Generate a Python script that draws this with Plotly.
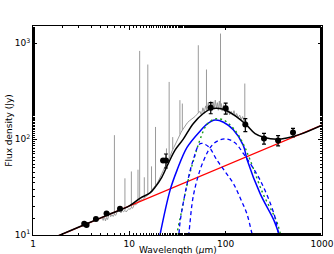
import plotly.graph_objects as go

# ---------------- data ----------------
# photometry
phot_wl = [3.4, 3.6, 4.5, 5.8, 8.0, 22.4, 24.0, 70, 100, 160, 250, 350, 500]
phot_flux = [13.1, 12.7, 14.7, 16.8, 18.8, 60, 60, 212, 210, 142, 101.6, 97, 117.5]
phot_err = [0, 0, 0, 0, 0, 0, 10, 28, 28, 22, 13, 12, 12]

# spectrum continuum
spec_wl = [5.2, 5.35, 5.5, 5.65, 5.8, 5.95, 6.1, 6.25, 6.4, 6.6, 6.8, 7.0, 7.2, 7.45,
           7.7, 7.95, 8.2, 8.45, 8.7, 9.0, 9.3, 9.6, 9.9, 10.2, 10.5, 10.8, 11.1, 11.3,
           11.6, 11.9, 12.2, 12.6, 13.0, 13.4, 13.8, 14.2, 14.7, 15.2, 15.7, 16.2, 16.7,
           17.2, 17.7, 18.2, 18.8, 19.4, 20.0, 20.6, 21.2, 21.8, 22.4, 23.0, 23.7, 24.4,
           25.1, 25.8, 26.6, 27.4, 28.2, 29.0, 29.9, 30.8, 31.7, 32.6, 33.5, 34.5, 35.5,
           36.5, 37.5, 38.5, 40, 42, 44, 46, 48, 50, 52, 54, 56, 58, 60, 62, 64, 66, 68,
           70, 72, 74, 76, 78, 80, 82, 84, 86, 88, 90, 92, 95, 98, 101, 104, 107, 110,
           114, 118, 122, 126, 130, 135, 140, 145, 150, 155, 160, 165]
spec_flux = [15.5, 14.2, 15.8, 14.0, 15.2, 14.5, 16.0, 17.2, 15.5, 16.3, 15.6, 16.5, 16.0, 17.2,
             18.5, 17.6, 17.0, 18.2, 17.5, 18.0, 17.4, 18.3, 18.8, 18.5, 19.4, 19.0, 20.0, 21.8,
             20.5, 21.2, 21.8, 22.5, 22.8, 23.4, 23.0, 24.2, 24.8, 25.6, 26.5, 27.0, 28.5,
             29.5, 30.2, 31.5, 33.0, 34.5, 36.5, 39.0, 41.5, 44.0, 47.0, 50.0, 53.0, 56.0,
             58, 63, 68, 73, 78, 82, 88, 94, 100, 106, 112, 118, 124,
             130, 136, 142, 148, 155, 160, 168, 172, 180, 188, 195, 178, 212, 190, 222, 198, 240, 205,
             250, 200, 245, 205, 255, 210, 240, 200, 250, 205, 235, 196, 228, 192, 215, 185, 205, 180,
             195, 178, 198, 172, 185, 168, 178, 160, 172, 155, 160, 150]

# emission lines
line_wl = [7.0, 9.0, 10.5, 12.3, 12.8, 14.3, 15.55, 17.0, 18.7, 24.3, 25.9, 28.2,
           33.5, 35.5, 52, 63.2, 88.4, 158]
line_base = [16.3, 18.0, 19.4, 22.0, 22.6, 24.3, 26.0, 29.0, 32.8, 56.0, 63.0, 78.0,
             112, 124, 188, 208, 222, 150]
line_peak = [110, 39, 46, 48, 832, 40, 600, 52, 134, 80, 395, 105,
             255, 235, 953, 532, 1262, 380]

# power law (red)
pl_wl = [1, 1000]
pl_flux = [7.6, 140]

# total model (black)
tot_wl = [1, 3, 6, 10, 13, 16.4, 18.5, 21.7, 25.4, 29.8, 36.3, 46, 58.6,
          71.5, 94.5, 130, 165, 202, 252, 339, 431, 590, 1000]
tot_flux = [7.6, 12.1, 16.2, 20.1, 24.3, 27.5, 31.5, 40, 55.8, 76.8, 100, 145, 185,
            208, 205, 171, 140, 114, 104, 100, 103, 112, 140]

# single-component fit (blue solid)
bb_wl = [19.5, 20.8, 26.5, 31.3, 39.7, 54.2, 65, 77.5, 95, 120, 152, 168, 228, 317, 360, 380]
bb_flux = [7, 10, 29.4, 47.5, 82, 121, 145, 158, 150, 125, 86.6, 60, 27, 14.2, 10, 8.5]

# warm component (blue dashed)
warm_wl = [31, 32.6, 33.8, 39.7, 45.9, 54.5, 66, 81.5, 100, 121, 145, 166, 188, 200]
warm_flux = [7.5, 10, 14.2, 34, 60, 89.6, 84, 60, 45, 34, 23, 16.7, 10.3, 8.5]

# cold component (blue dashed)
cold_wl = [39, 41.4, 46.6, 59.1, 75, 99.1, 124, 154, 229, 317, 355, 375]
cold_flux = [7, 10.3, 26.9, 60, 89.6, 100.7, 92, 70, 37, 16.7, 10.3, 8.5]

# green dotted component
grn_wl = [29.5, 31, 35, 39.3, 44, 49.9, 54.4, 63.2, 77, 95, 120, 150, 180, 244, 335, 370, 390]
grn_flux = [7, 10, 18, 31.8, 50, 76.8, 100, 140, 162, 158, 130, 92, 60, 27, 14.2, 10.3, 8.5]

# axis ticks
x_ticks = [1, 10, 100, 1000]
x_ticktext = ["1", "10", "100", "1000"]
y_ticks = [10, 100, 1000]
y_ticktext = ["10<sup>1</sup>", "10<sup>2</sup>", "10<sup>3</sup>"]

# ---------------- figure ----------------
fig = go.Figure()

fig.add_trace(go.Scatter(x=spec_wl, y=spec_flux, mode="lines",
                         line=dict(color="#9a9a9a", width=1), hoverinfo="skip"))
lx, ly = [], []
for w, b, p in zip(line_wl, line_base, line_peak):
    lx += [w, w, None]
    ly += [b, p, None]
fig.add_trace(go.Scatter(x=lx, y=ly, mode="lines",
                         line=dict(color="#9a9a9a", width=1), hoverinfo="skip"))

fig.add_trace(go.Scatter(x=pl_wl, y=pl_flux, mode="lines",
                         line=dict(color="#ff0000", width=1.3)))
fig.add_trace(go.Scatter(x=bb_wl, y=bb_flux, mode="lines", line_shape="spline",
                         line=dict(color="#0000ff", width=1.5)))
fig.add_trace(go.Scatter(x=grn_wl, y=grn_flux, mode="lines", line_shape="spline",
                         line=dict(color="#1a9a1a", width=1.4, dash="2px,3px")))
fig.add_trace(go.Scatter(x=warm_wl, y=warm_flux, mode="lines", line_shape="spline",
                         line=dict(color="#0000ff", width=1.3, dash="4px,3px")))
fig.add_trace(go.Scatter(x=cold_wl, y=cold_flux, mode="lines", line_shape="spline",
                         line=dict(color="#0000ff", width=1.3, dash="4px,3px")))
fig.add_trace(go.Scatter(x=tot_wl, y=tot_flux, mode="lines", line_shape="spline",
                         line=dict(color="#000000", width=1.5)))
fig.add_trace(go.Scatter(x=phot_wl, y=phot_flux, mode="markers",
                         marker=dict(color="#000000", size=6),
                         error_y=dict(type="data", array=phot_err, color="#000000",
                                      thickness=1.2, width=2)))

axis_common = dict(
    type="log", showline=True, linecolor="#000000", linewidth=1, mirror="allticks",
    ticks="inside", ticklen=4, tickcolor="#000000", showgrid=False, zeroline=False,
    automargin=False,
    tickfont=dict(family="DejaVu Sans", size=9, color="#000000"),
    minor=dict(ticks="inside", ticklen=2, tickcolor="#000000", showgrid=False),
)

fig.update_layout(
    width=334, height=254,
    margin=dict(l=33, r=12, t=26, b=19),
    paper_bgcolor="white", plot_bgcolor="white",
    showlegend=False,
    font=dict(family="DejaVu Sans", size=9, color="#000000"),
    xaxis=dict(axis_common, range=[0, 3], tickvals=x_ticks, ticktext=x_ticktext),
    yaxis=dict(axis_common, range=[1, 3.18], tickvals=y_ticks, ticktext=y_ticktext,
               title=dict(text="Flux density (Jy)", standoff=0,
                          font=dict(size=9))),
    annotations=[dict(text="Wavelength (<i>μ</i>m)", xref="paper", yref="paper",
                      x=0.5, y=-0.074, xanchor="center", yanchor="middle",
                      showarrow=False, font=dict(family="DejaVu Sans", size=9,
                                                 color="#000000"))],
)

fig.write_html("out.html", config={"displayModeBar": False},
               post_script="document.body.style.margin='0px';document.body.style.overflow='hidden';")
